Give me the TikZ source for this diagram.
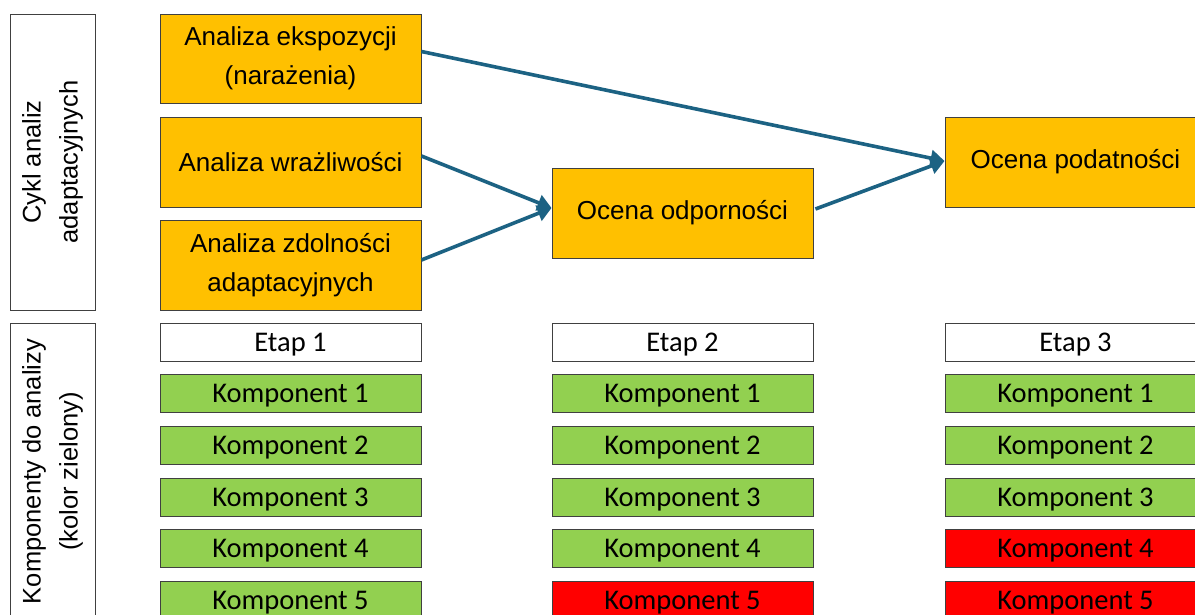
\documentclass[tikz,border=0pt]{standalone}
\usepackage{fontspec}
\setmainfont{Liberation Sans}
\newfontfamily\calib{Carlito}
\usetikzlibrary{arrows.meta}
\definecolor{orangebox}{HTML}{FFC000}
\definecolor{greenbox}{HTML}{92D050}
\definecolor{redbox}{HTML}{FF0000}
\definecolor{arrowblue}{HTML}{1C6283}
\definecolor{edgegrey}{HTML}{404040}
\begin{document}
\begin{tikzpicture}[x=1pt,y=-1pt,
  box/.style={draw=edgegrey, line width=0.9pt, inner sep=0pt, align=center},
  sidebox/.style={box, fill=white},
  sidetext/.style={rotate=90, align=center, font=\fontsize{25.5}{37}\selectfont},
  stagebox/.style={box, fill=orangebox, font=\fontsize{26}{39}\selectfont},
  etapbox/.style={box, fill=white, font=\calib\fontsize{28.5}{30}\selectfont},
  compok/.style={box, fill=greenbox, font=\calib\fontsize{28.5}{30}\selectfont},
  compbad/.style={box, fill=redbox, font=\calib\fontsize{28.5}{30}\selectfont},
  cell/.style={minimum width=261pt, minimum height=38pt, text height=22pt, text depth=4pt},
  flow/.style={draw=arrowblue, line width=3.6pt, -{Triangle[length=14pt,width=16pt]}}
]
\useasboundingbox (0,0) rectangle (1195,615);
\clip (0,0) rectangle (1195,615);

% side labels
\node[sidebox, minimum width=85pt, minimum height=296pt] (s1) at (52.5,162) {};
\node[sidetext] (t1) at (s1.center) {Cykl analiz\\adaptacyjnych};
\node[sidebox, minimum width=85pt, minimum height=297pt] (s2) at (52.5,471.5) {};
\node[sidetext] (t2) at (s2.center) {Komponenty do analizy\\(kolor zielony)};

% analysis stages
\node[stagebox, minimum width=261pt, minimum height=89pt] (a1) at (290.5,58.5) {Analiza ekspozycji\\(narażenia)};
\node[stagebox, minimum width=261pt, minimum height=90pt] (a2) at (290.5,162) {Analiza wrażliwości};
\node[stagebox, minimum width=261pt, minimum height=90pt] (a3) at (290.5,265) {Analiza zdolności\\adaptacyjnych};
\node[stagebox, minimum width=261pt, minimum height=90pt] (odp) at (682.5,213) {Ocena odporności};
\node[stagebox, minimum width=261pt, minimum height=90pt] (pod) at (1075.5,162) {Ocena podatności};

% connectors
\draw[flow] ([yshift=7pt]a1.east) -- ([yshift=1pt]pod.west);
\draw[flow] ([yshift=6pt]a2.east) -- ([yshift=5pt]odp.west);
\draw[flow] ([yshift=5pt]a3.east) -- ([yshift=5pt]odp.west);
\draw[flow] ([xshift=2pt,yshift=4pt]odp.east) -- ([yshift=1pt]pod.west);

% component tables
\foreach \c/\x in {1/290.5, 2/682.5, 3/1075.5} {
  \node[etapbox, cell] (e\c) at (\x,342) {Etap \c};
}
\node[compok, cell] (k11) at (290.5,393) {Komponent 1};
\node[compok, cell] (k12) at (290.5,445) {Komponent 2};
\node[compok, cell] (k13) at (290.5,497) {Komponent 3};
\node[compok, cell] (k14) at (290.5,548) {Komponent 4};
\node[compok, cell] (k15) at (290.5,600) {Komponent 5};

\node[compok, cell] (k21) at (682.5,393) {Komponent 1};
\node[compok, cell] (k22) at (682.5,445) {Komponent 2};
\node[compok, cell] (k23) at (682.5,497) {Komponent 3};
\node[compok, cell] (k24) at (682.5,548) {Komponent 4};
\node[compbad, cell] (k25) at (682.5,600) {Komponent 5};

\node[compok, cell] (k31) at (1075.5,393) {Komponent 1};
\node[compok, cell] (k32) at (1075.5,445) {Komponent 2};
\node[compok, cell] (k33) at (1075.5,497) {Komponent 3};
\node[compbad, cell] (k34) at (1075.5,548) {Komponent 4};
\node[compbad, cell] (k35) at (1075.5,600) {Komponent 5};
\end{tikzpicture}
\end{document}
